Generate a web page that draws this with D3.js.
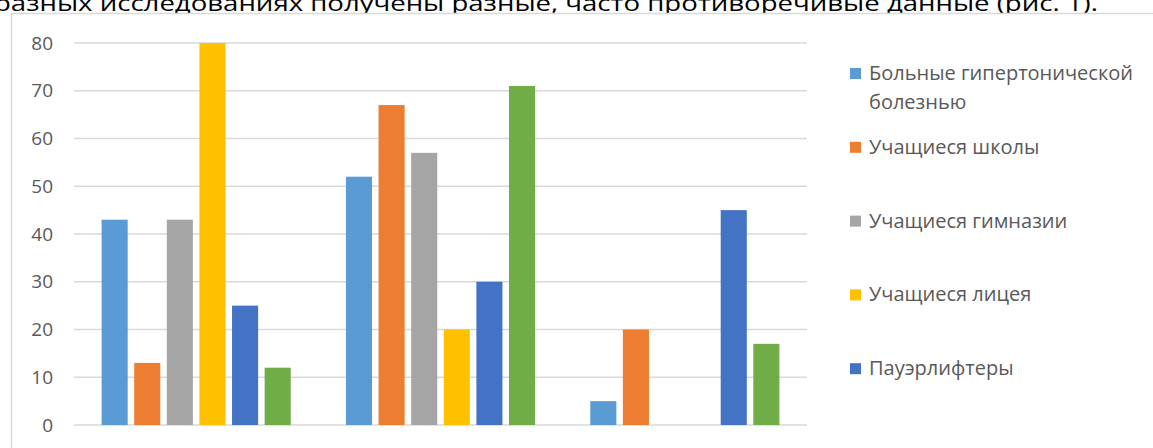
<!DOCTYPE html>
<html>
<head>
<meta charset="utf-8">
<script src="https://cdn.jsdelivr.net/npm/d3@7"></script>
<style>
  html, body { margin: 0; padding: 0; background: #fff; }
  svg { display: block; }
</style>
</head>
<body>
<svg id="chart" width="1153" height="448"></svg>
<script>
// Category groups along the x axis (unlabelled in this figure)
const categories = ["1", "2", "3"];

// Series names, in legend order
const seriesNames = [
  "Больные гипертонической болезнью",
  "Учащиеся школы",
  "Учащиеся гимназии",
  "Учащиеся лицея",
  "Пауэрлифтеры",
  "Ряд 6"
];

// Values per series, one entry per category (null = no bar)
const sHypertension = [43, 52, 5];
const sSchool       = [13, 67, 20];
const sGymnasium    = [43, 57, null];
const sLyceum       = [80, 20, null];
const sPowerlifters = [25, 30, 45];
const sSeries6      = [12, 71, 17];

const seriesValues = [sHypertension, sSchool, sGymnasium, sLyceum, sPowerlifters, sSeries6];

const yTicks = [0, 10, 20, 30, 40, 50, 60, 70, 80];

const colors = ["#5B9BD5", "#ED7D31", "#A5A5A5", "#FFC000", "#4472C4", "#70AD47"];

const captionText = "разных исследованиях получены разные, часто противоречивые данные (рис. 1).";

const svg = d3.select("#chart");
const W = 1153, H = 448;
const FONT = "'Open Sans', 'Noto Sans', sans-serif";

svg.append("rect").attr("width", W).attr("height", H).attr("fill", "#fff");

// Line of body text above the chart frame
svg.append("text")
  .attr("x", -6).attr("y", 10.5)
  .attr("textLength", 1104).attr("lengthAdjust", "spacingAndGlyphs")
  .attr("font-family", FONT).attr("font-size", 22).attr("fill", "#000")
  .text(captionText);

// Chart frame
svg.append("rect")
  .attr("x", 11.5).attr("y", 13.5).attr("width", 1300).attr("height", 600)
  .attr("fill", "#fff").attr("stroke", "#d9d9d9").attr("stroke-width", 1.5);

const plot = { left: 74, right: 807, top: 43, bottom: 425 };

const x0 = d3.scaleBand().domain(categories).range([plot.left, plot.right]).padding(0);
const groupPad = 27.6;
const x1 = d3.scaleBand()
  .domain(d3.range(seriesNames.length))
  .range([groupPad, x0.bandwidth() - groupPad])
  .paddingInner(0.2);
const y = d3.scaleLinear().domain([0, 80]).range([plot.bottom, plot.top]);

// Horizontal gridlines
svg.append("g").selectAll("line").data(yTicks).join("line")
  .attr("x1", plot.left).attr("x2", plot.right)
  .attr("y1", d => y(d)).attr("y2", d => y(d))
  .attr("stroke", "#d9d9d9").attr("stroke-width", 1.5);

// Y axis labels
const yAxis = d3.axisLeft(y).tickValues(yTicks).tickSize(0).tickPadding(0);
const gy = svg.append("g").attr("transform", `translate(${53},0)`).call(yAxis);
gy.select(".domain").remove();
gy.selectAll("text")
  .attr("font-family", FONT).attr("font-size", 19).attr("fill", "#595959");

// Bars
const barData = [];
seriesValues.forEach((vals, si) => {
  vals.forEach((v, ci) => {
    if (v !== null) barData.push({ si, cat: categories[ci], v });
  });
});
svg.append("g").selectAll("rect").data(barData).join("rect")
  .attr("x", d => x0(d.cat) + x1(d.si))
  .attr("width", x1.bandwidth())
  .attr("y", d => y(d.v))
  .attr("height", d => y(0) - y(d.v))
  .attr("fill", d => colors[d.si]);

// Legend: the frame leaves room for the first five entries
const legendItems = seriesNames.slice(0, 5);
const legendX = 850, legendTop = 73, legendStep = 73.8;
const lg = svg.append("g");
legendItems.forEach((name, i) => {
  const cy = legendTop + i * legendStep;
  lg.append("rect")
    .attr("x", legendX).attr("y", cy - 5).attr("width", 11).attr("height", 11)
    .attr("fill", colors[i]);
  const lines = i === 0 ? ["Больные гипертонической", "болезнью"] : [name];
  lines.forEach((ln, k) => {
    lg.append("text")
      .attr("x", 869).attr("y", cy + k * 29)
      .attr("dy", "0.35em")
      .attr("font-family", FONT).attr("font-size", 20).attr("fill", "#595959")
      .text(ln);
  });
});
</script>
</body>
</html>
